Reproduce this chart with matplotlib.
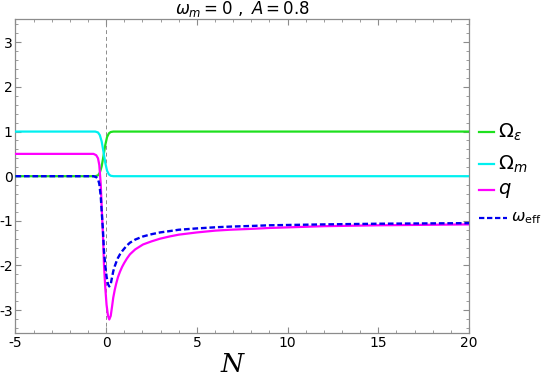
import matplotlib
matplotlib.use("Agg")
import matplotlib.pyplot as plt
from matplotlib.lines import Line2D
from matplotlib.ticker import MultipleLocator

# Valores (N = número de e-folds)
N_omega = [-5, -0.6, -0.45, -0.35, -0.25, -0.15, -0.05, 0.05, 0.15, 0.25, 0.4, 20]
omega_eps = [0.0, 0.0, 0.02, 0.08, 0.22, 0.45, 0.70, 0.88, 0.96, 0.99, 1.0, 1.0]
omega_m = [1.0, 1.0, 0.98, 0.92, 0.78, 0.55, 0.30, 0.12, 0.04, 0.01, 0.0, 0.0]

N_w = [-5, -0.7, -0.55, -0.45, -0.38, -0.3, -0.25, -0.18, -0.12, -0.05, 0.02,
       0.1, 0.17, 0.25, 0.32, 0.39, 0.47, 0.55, 0.65, 0.76, 0.88, 1.0, 1.15,
       1.31, 1.6, 2.03, 2.5, 2.97, 3.5, 4.0, 5.0, 6.0, 6.8, 8.0, 9.0, 10.5,
       12.0, 15.0, 20.0]
w_eff = [0.0, 0.0, -0.02, -0.07, -0.17, -0.45, -0.78, -1.2, -1.68, -2.0, -2.25,
         -2.42, -2.47, -2.42, -2.27, -2.13, -2.02, -1.93, -1.83, -1.75, -1.68,
         -1.62, -1.55, -1.49, -1.42, -1.35, -1.30, -1.26, -1.23, -1.20, -1.17,
         -1.145, -1.13, -1.115, -1.10, -1.09, -1.08, -1.065, -1.052]
q = [0.5, 0.5, 0.47, 0.40, 0.25, -0.18, -0.67, -1.3, -2.0, -2.5, -2.88,
     -3.13, -3.21, -3.13, -2.93, -2.72, -2.55, -2.41, -2.26, -2.14, -2.03,
     -1.94, -1.84, -1.75, -1.64, -1.53, -1.46, -1.40, -1.35, -1.31, -1.26,
     -1.22, -1.20, -1.18, -1.16, -1.14, -1.12, -1.10, -1.08]

VERDE = "#1ee01e"
CIAN = "#00f0f0"
MAGENTA = "#ff00ff"
AZUL = "#0000ee"
GRIS = "#8c8c8c"
DASH = (0, (2.4, 1.2))

plt.rcParams["mathtext.fontset"] = "dejavusans"
plt.rcParams["axes.unicode_minus"] = False
plt.rcParams["font.family"] = ["Liberation Sans Narrow", "DejaVu Sans"]

fig = plt.figure(figsize=(5.45, 3.82), dpi=100)
ax = fig.add_axes([0.0284, 0.1275, 0.8322, 0.8225])

ax.axvline(0, color=GRIS, lw=0.7, ls=(0, (4, 3)), zorder=1)
ax.plot(N_omega, omega_eps, color=VERDE, lw=1.6, zorder=3)
ax.plot(N_omega, omega_m, color=CIAN, lw=1.6, zorder=3)
ax.plot(N_w, q, color=MAGENTA, lw=1.6, zorder=3)
ax.plot(N_w, w_eff, color=AZUL, lw=1.7, ls=DASH, zorder=4)

ax.set_xlim(-5, 20)
ax.set_ylim(-3.52, 3.52)
ax.xaxis.set_major_locator(MultipleLocator(5))
ax.xaxis.set_minor_locator(MultipleLocator(1))
ax.yaxis.set_major_locator(MultipleLocator(1))
ax.yaxis.set_minor_locator(MultipleLocator(0.2))

ax.tick_params(which="both", direction="in", top=True, right=True,
               color=GRIS, labelsize=10, pad=2)
ax.tick_params(which="major", length=4, width=0.8)
ax.tick_params(which="minor", length=2.2, width=0.6)
for s in ax.spines.values():
    s.set_color(GRIS)
    s.set_linewidth(0.9)

ax.set_title(r"$\omega_m = 0\ ,\ A = 0.8$", fontsize=12, pad=1)
fig.text(232 / 545, 1 - 365 / 382, "N", family="DejaVu Serif", style="italic",
         fontsize=19, ha="center", va="center")

# Leyenda a mano, afuera a la derecha (como en Mathematica)
entradas = [
    (VERDE, "-", r"$\Omega_\epsilon$", 132, 494, 14),
    (CIAN, "-", r"$\Omega_m$", 164, 494, 14),
    (MAGENTA, "-", r"$q$", 190, 494, 14),
    (AZUL, DASH, r"$\omega_{\rm eff}$", 218, 507, 11.5),
]
for color, estilo, texto, ypx, xfin, tam in entradas:
    y = 1 - ypx / 382
    fig.add_artist(Line2D([479 / 545, xfin / 545], [y, y], color=color,
                          lw=1.6, ls=estilo, transform=fig.transFigure))
    fig.text((xfin + 4) / 545, y, texto, fontsize=tam, ha="left", va="center")

fig.savefig("out.png", dpi=100, facecolor="white")
